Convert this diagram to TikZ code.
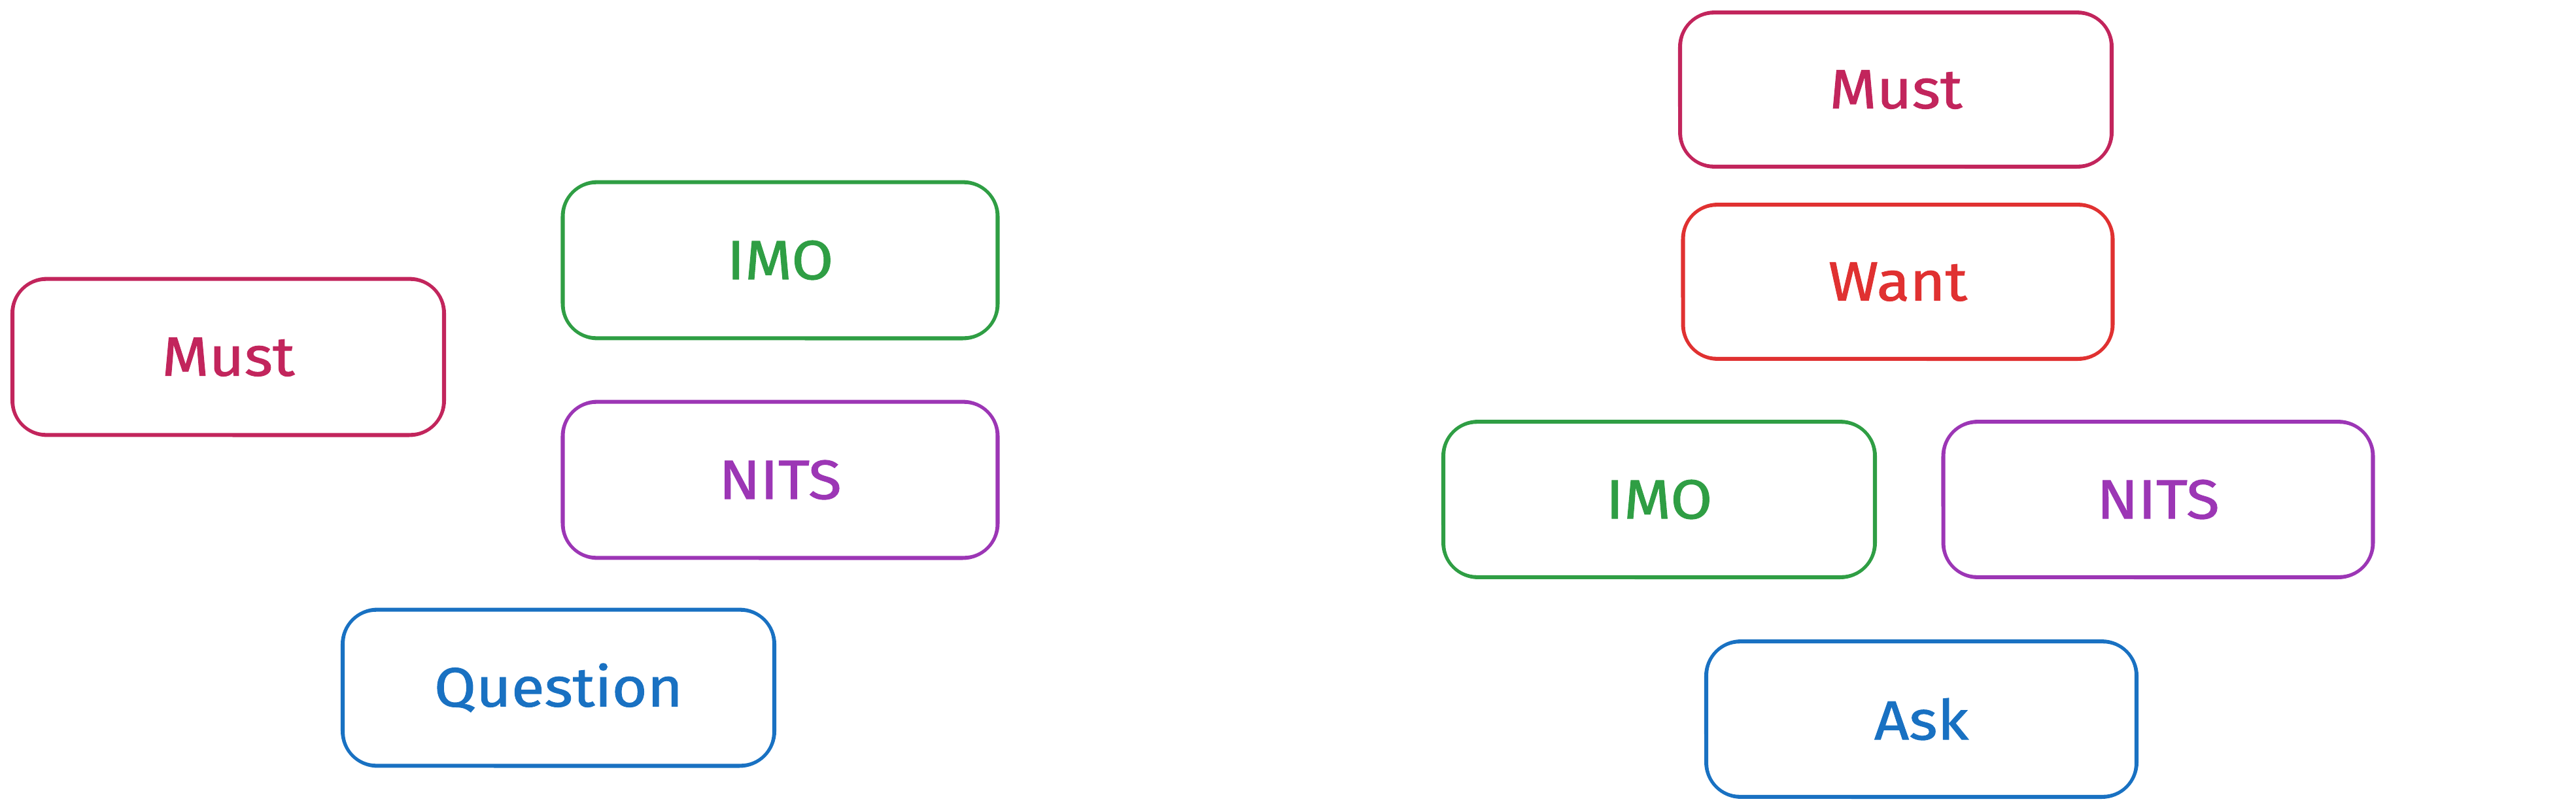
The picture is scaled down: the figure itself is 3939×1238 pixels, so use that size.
\documentclass[tikz,border=0pt]{standalone}
\usepackage{fontspec}
\setmainfont{Fira Sans}
\newfontfamily\handfont[FakeBold=1.2, FakeStretch=1.1]{Fira Sans}
\definecolor{cMust}{HTML}{C2255C}
\definecolor{cWant}{HTML}{E03131}
\definecolor{cIMO}{HTML}{2F9E44}
\definecolor{cNITS}{HTML}{9C36B5}
\definecolor{cAsk}{HTML}{1971C2}
\tikzset{
  box/.style={draw=#1, text=#1, line width=1.3pt, rounded corners=0.5cm,
    minimum width=6.58cm, minimum height=2.37cm, inner sep=0pt,
    font=\handfont\fontsize{24}{27}\selectfont},
  sketchline/.style={draw=#1, line width=0.9pt, rounded corners=0.55cm}
}
\newcommand{\sketchbox}[2]{%
  \draw[sketchline=#2]
    ([shift={(0.06,0.02)}]#1.south west) --
    ([shift={(-0.02,0.06)}]#1.south east) --
    ([shift={(0.02,-0.02)}]#1.north east) --
    ([shift={(-0.03,-0.07)}]#1.north west) -- cycle;}
\begin{document}
\begin{tikzpicture}[x=0.01cm,y=-0.01cm]
\useasboundingbox (0,0) rectangle (3939,1238);
% left group
\node[box=cMust] (mustL) at (349,546) {Must};
\node[box=cIMO, minimum width=6.63cm] (imoL) at (1193,398) {IMO};
\node[box=cNITS, minimum width=6.63cm] (nitsL) at (1193,734) {NITS};
\node[box=cAsk] (question) at (854,1052) {Question};
% right group
\node[box=cMust, minimum height=2.34cm] (mustR) at (2899,137) {Must};
\node[box=cWant, minimum width=6.55cm, minimum height=2.34cm] (want) at (2902,431) {Want};
\node[box=cIMO, minimum height=2.36cm] (imoR) at (2537,764) {IMO};
\node[box=cNITS, minimum width=6.55cm, minimum height=2.36cm] (nitsR) at (3300,764) {NITS};
\node[box=cAsk, minimum width=6.56cm, minimum height=2.36cm] (ask) at (2938,1100) {Ask};
\sketchbox{mustL}{cMust}
\sketchbox{imoL}{cIMO}
\sketchbox{nitsL}{cNITS}
\sketchbox{question}{cAsk}
\sketchbox{mustR}{cMust}
\sketchbox{want}{cWant}
\sketchbox{imoR}{cIMO}
\sketchbox{nitsR}{cNITS}
\sketchbox{ask}{cAsk}
\end{tikzpicture}
\end{document}
